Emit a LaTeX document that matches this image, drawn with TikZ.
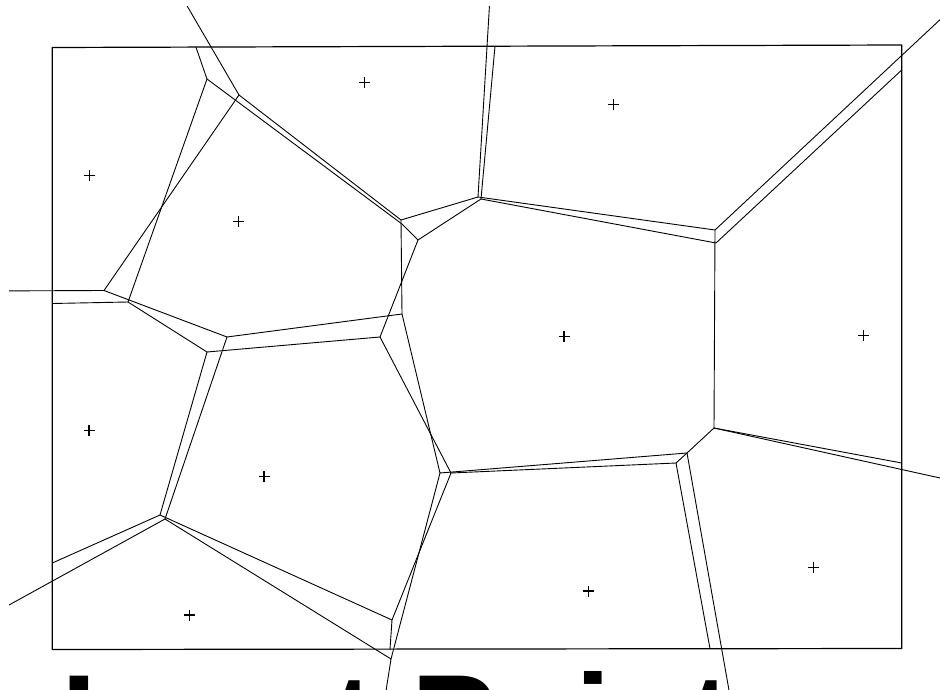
\documentclass[tikz,border=0pt]{standalone}
\usepackage{fontspec}
\setmainfont{Liberation Sans}
\begin{document}
\begin{tikzpicture}[x=1pt,y=-1pt,line cap=round,line join=round,
  vline/.style={line width=0.9pt},
  boxline/.style={line width=1.2pt},
  site/.style={line width=1.3pt,line cap=butt}]
\useasboundingbox (0,0) rectangle (940,690);
% ---- vertices of the unbounded diagram
\coordinate (A2) at (239,95);
\coordinate (B2) at (104,290.5);
\coordinate (C2) at (227,337);
\coordinate (D2) at (401,220);
\coordinate (E2) at (478,197);
\coordinate (F2) at (402,314);
\coordinate (G2) at (440,473);
\coordinate (H2) at (391,659);
\coordinate (J2) at (165,519);
\coordinate (P2) at (715,230);
\coordinate (Q2) at (714,428);
\coordinate (R2) at (687,453);
\coordinate (A2o) at (172,-20);
\coordinate (B2o) at (-20,291);
\coordinate (E2o) at (491,-20);
\coordinate (J2o) at (-20,621);
\coordinate (H2o) at (383,710);
\coordinate (P2o) at (960,1);
\coordinate (Q2o) at (960,482.4);
\coordinate (R2o) at (732.5,710);
% ---- vertices of the bounded diagram
\coordinate (A1) at (207,79);
\coordinate (B1) at (128,302);
\coordinate (C1) at (207,352);
\coordinate (D1a) at (402,224);
\coordinate (D1) at (418,240);
\coordinate (E1) at (481,199);
\coordinate (F1) at (380,337);
\coordinate (G1) at (451,473);
\coordinate (K1) at (392,620);
\coordinate (J1) at (160,515);
\coordinate (P1) at (716,243);
\coordinate (R1) at (676,463);
\coordinate (A1o) at (196,47.3);
\coordinate (B1o) at (52.3,303.5);
\coordinate (E1o) at (495,46.2);
\coordinate (J1o) at (52.3,563);
\coordinate (K1o) at (390,649.3);
\coordinate (P1o) at (901.7,70);
\coordinate (Q1o) at (901.7,463);
\coordinate (R1o) at (710,648.7);
% ---- frame
\draw[boxline] (52.3,47.5) -- (901.7,45) -- (901.7,648.5) -- (52.3,649.5) -- cycle;
\begin{scope}
\clip (9,7) rectangle (940,690);
% unbounded diagram
\draw[vline] (A2o) -- (A2) -- (D2) -- (E2) -- (E2o);
\draw[vline] (A2) -- (B2) -- (B2o);
\draw[vline] (B2) -- (C2) -- (F2) -- (G2) -- (R2) -- (Q2) -- (Q2o);
\draw[vline] (D2) -- (F2);
\draw[vline] (C2) -- (J2) -- (J2o);
\draw[vline] (J2) -- (H2) -- (H2o);
\draw[vline] (G2) -- (H2);
\draw[vline] (E2) -- (P2) -- (P2o);
\draw[vline] (P2) -- (Q2);
\draw[vline] (R2) -- (R2o);
\end{scope}
% bounded diagram
\draw[vline] (A1o) -- (A1) -- (D1a) -- (D1) -- (E1) -- (E1o);
\draw[vline] (A1) -- (B1) -- (B1o);
\draw[vline] (B1) -- (C1) -- (F1) -- (G1) -- (R1) -- (R2);
\draw[vline] (D1) -- (F1);
\draw[vline] (C1) -- (J1) -- (J1o);
\draw[vline] (J1) -- (K1) -- (K1o);
\draw[vline] (G1) -- (K1);
\draw[vline] (E1) -- (P1) -- (P1o);
\draw[vline] (Q2) -- (Q1o);
\draw[vline] (R1) -- (R1o);
% ---- sites
\foreach \x/\y in {89.3/175.7, 238.3/221.7, 364.3/82.7, 613.3/104.3, 89/430.7,
  264/476.7, 189.3/615, 564/336.7, 588.7/591, 863.3/335.7, 813.3/567.7}
  {\draw[site] (\x-5.5,\y) -- (\x+5.5,\y) (\x,\y-5.5) -- (\x,\y+5.5);}
% ---- caption (cut off by the lower edge, as in the original)
\node[font=\bfseries\fontsize{128.4}{128.4}\selectfont,anchor=base west,inner sep=0pt]
  (caption) at (61.7,764) {Input Points};
\end{tikzpicture}
\end{document}
